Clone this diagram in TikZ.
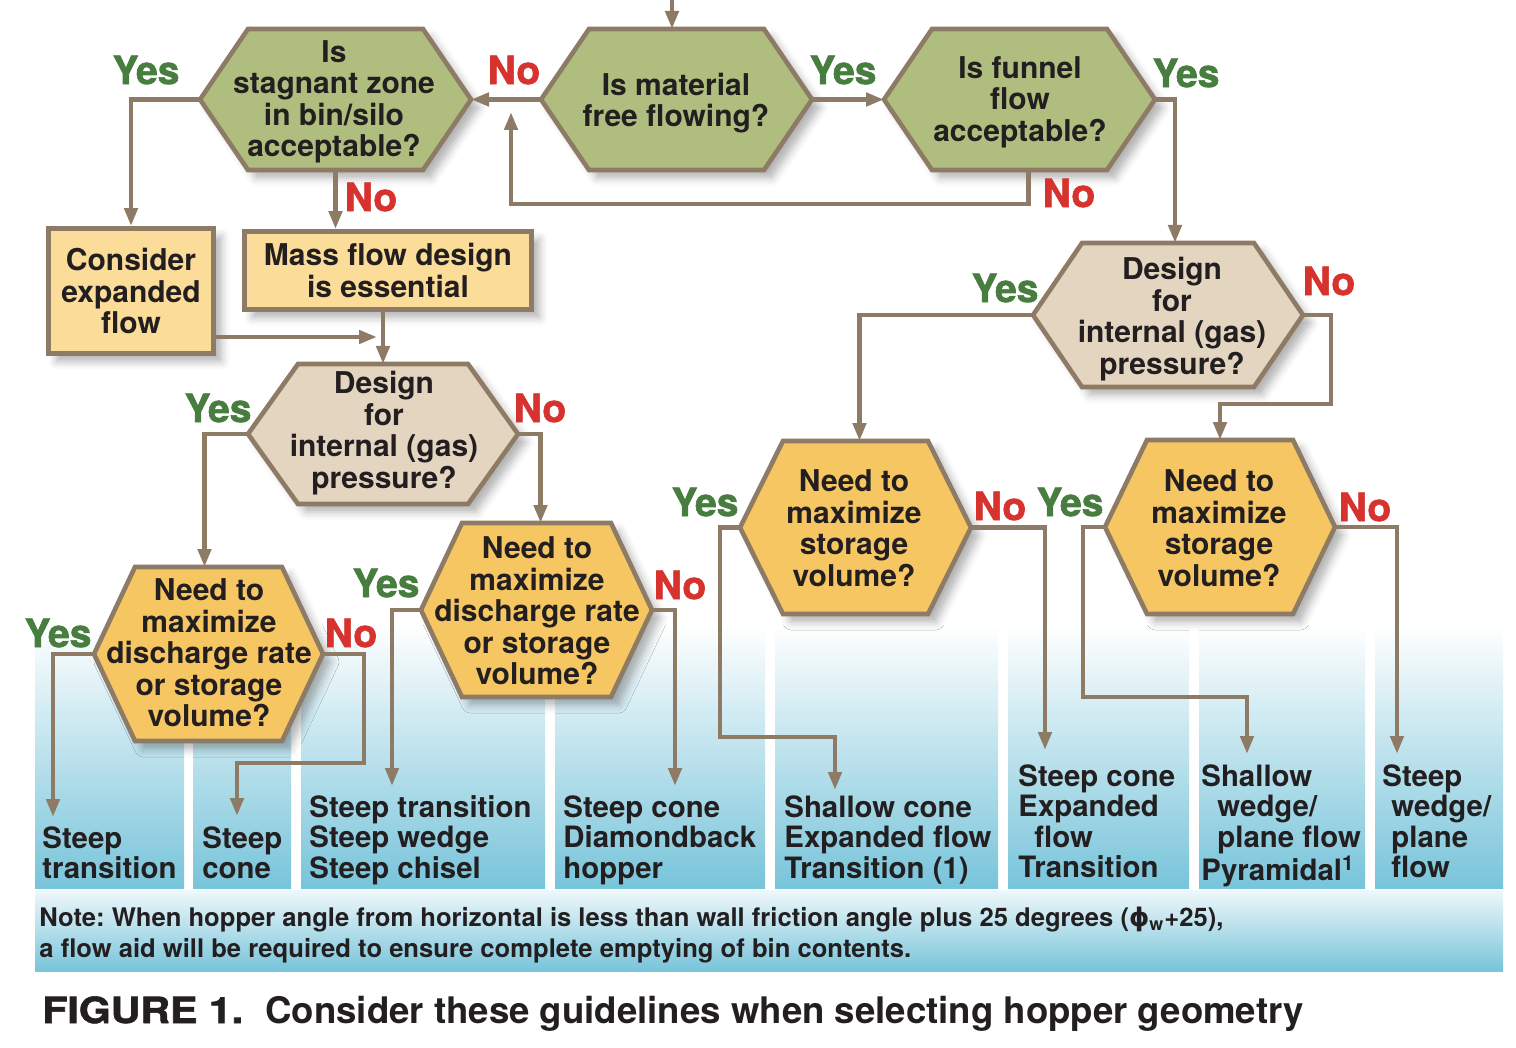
\documentclass[tikz,border=0pt]{standalone}
\usepackage{fontspec}
\setmainfont{TeX Gyre Heros}
\newfontfamily\symfont{DejaVu Sans}
\newfontfamily\heavyfont{texgyreheros-bold.otf}[FakeBold=1.6]
\usepackage{graphicx}
\usetikzlibrary{arrows.meta, calc, positioning, shadows.blur}
\frenchspacing

\definecolor{hexgreen}{RGB}{175,190,127}
\definecolor{hextan}{RGB}{227,213,191}
\definecolor{hexorange}{RGB}{246,198,98}
\definecolor{boxyellow}{RGB}{251,220,152}
\definecolor{linebrown}{RGB}{141,123,102}
\definecolor{yesgreen}{RGB}{72,125,64}
\definecolor{nored}{RGB}{214,50,46}
\definecolor{colblue}{RGB}{120,196,218}
\definecolor{txt}{RGB}{35,31,32}

\begin{document}
\begin{tikzpicture}[x=0.5pt, y=-0.5pt,
    hexline/.style={draw=linebrown, line width=2.3pt,
      blur shadow={shadow xshift=4pt, shadow yshift=-4pt, shadow blur radius=4pt, shadow opacity=30}},
    boxline/.style={draw=linebrown, line width=2.4pt, fill=boxyellow, align=center, text=txt,
      font=\fontsize{15}{15.75}\selectfont\bfseries, inner ysep=2pt,
      blur shadow={shadow xshift=4pt, shadow yshift=-4pt, shadow blur radius=4pt, shadow opacity=30}},
    qtext/.style={align=center, text=txt, inner sep=0pt, font=\fontsize{15}{15.75}\selectfont\bfseries},
    arr/.style={draw=linebrown, line width=2.3pt, -{Triangle[width=6.5pt,length=9pt]}},
    yes/.style={text=yesgreen, font=\fontsize{19.5}{19.5}\selectfont\heavyfont},
    no/.style={text=nored, font=\fontsize{19.5}{19.5}\selectfont\heavyfont},
    coltext/.style={anchor=north west, align=left, inner sep=0pt, text=txt,
      font=\fontsize{14.7}{15.25}\selectfont\bfseries},
  ]
  \useasboundingbox (0,0) rectangle (1516,1048);

  % outcome columns and note band
  \foreach \a/\b in {35/184, 193/291, 301/545, 555/765, 775/998, 1008/1189, 1199/1365, 1375/1503}
    \shade[top color=white, bottom color=colblue] (\a,625) rectangle (\b,888);
  \shade[top color=colblue!12, bottom color=colblue] (35,890) rectangle (1503,971);

  % decision hexagons
  \foreach \n/\cx/\cy/\hw/\hh/\sl/\col in {
      stag/335.5/99.5/135.5/70.5/48/hexgreen,
      free/676.5/99.5/135.5/70.5/48/hexgreen,
      funnel/1019.5/99.5/135.5/70.5/48/hexgreen,
      design1/383/434/135/70/50/hextan,
      design2/1168/315/135/72/49/hextan,
      max1/208.5/654/114.5/87/41/hexorange,
      max2/536.5/610/115.5/87/41/hexorange,
      stor1/855.5/527.5/115.5/86.5/43/hexorange,
      stor2/1220/527/115/87/42/hexorange}
  {
    \draw[hexline, fill=\col] (\cx-\hw,\cy) -- (\cx-\hw+\sl,\cy-\hh) -- (\cx+\hw-\sl,\cy-\hh)
      -- (\cx+\hw,\cy) -- (\cx+\hw-\sl,\cy+\hh) -- (\cx-\hw+\sl,\cy+\hh) -- cycle;
    \coordinate (\n-w) at (\cx-\hw,\cy);
    \coordinate (\n-e) at (\cx+\hw,\cy);
    \coordinate (\n-n) at (\cx,\cy-\hh);
    \coordinate (\n-s) at (\cx,\cy+\hh);
  }

  \node[qtext] (stag) at (334,102) {Is\\stagnant zone\\in bin/silo\\acceptable?};
  \node[qtext] (free) at (676,103) {Is material\\free flowing?};
  \node[qtext] (funnel) at (1020,102) {Is funnel\\flow\\acceptable?};
  \node[qtext] (design1) at (384,433) {Design\\for\\internal (gas)\\pressure?};
  \node[qtext] (design2) at (1172,319) {Design\\for\\internal (gas)\\pressure?};
  \node[qtext] (max1) at (209,653) {Need to\\maximize\\discharge rate\\or storage\\volume?};
  \node[qtext] (max2) at (537,611) {Need to\\maximize\\discharge rate\\or storage\\volume?};
  \node[qtext] (stor1) at (854,528) {Need to\\maximize\\storage\\volume?};
  \node[qtext] (stor2) at (1219,528) {Need to\\maximize\\storage\\volume?};

  \node[boxline, minimum width=82.5pt, minimum height=62.5pt] (consider) at (131,291) {Consider\\expanded\\flow};
  \node[boxline, minimum width=143.5pt, minimum height=39pt] (mass) at (388,270.5) {Mass flow design\\is essential};

  % free ends of the connectors
  \coordinate (entry) at (672,0);
  \coordinate (loopend) at (511,112);
  \coordinate (merge) at (383,337);
  \coordinate (tip1) at (53,817);
  \coordinate (tip2) at (237,816);
  \coordinate (tip3) at (392,786);
  \coordinate (tip4) at (675,786);
  \coordinate (tip5) at (835,790);
  \coordinate (tip6) at (1045,750);
  \coordinate (tip7) at (1247,754);
  \coordinate (tip8) at (1397,754);

  \draw[arr] (entry) -- (entry |- free-n);
  \draw[arr] (free-w) -- (stag-e);
  \draw[arr] (free-e) -- (funnel-w);
  \draw[arr] ([xshift=4.5pt]funnel-s) -- ++(0,34) -| (loopend);
  \draw[arr] (stag-w) -| (consider);
  \draw[arr] (stag-s) -- (stag-s |- mass.north);
  \draw[arr] (mass.south -| design1-n) -- (design1-n);
  \draw[arr, shorten >=3pt] (consider.east |- merge) -- (merge);
  \draw[arr] (funnel-e) -| ([xshift=3.5pt]design2-n);
  \draw[arr] (design1-w) -| ([xshift=-2pt]max1-n);
  \draw[arr] (design1-e) -| ([xshift=2pt]max2-n);
  \draw[arr] (design2-w) -| ([xshift=2pt]stor1-n);
  \draw[arr] (design2-e) -| (1331,404) -| (stor2-n);
  \draw[arr] (max1-w) -| (tip1);
  \draw[arr] (max1-e) -| (364,763) -| (tip2);
  \draw[arr] (max2-w) -| (tip3);
  \draw[arr] (max2-e) -| (tip4);
  \draw[arr] (stor1-w) -| (720,737) -| (tip5);
  \draw[arr] (stor1-e) -| (tip6);
  \draw[arr] (stor2-w) -| (1083,697) -| (tip7);
  \draw[arr] (stor2-e) -| (tip8);

  % yes / no labels
  \node[yes] (yes-stag) at (146,70) {Yes};
  \node[no] (no-free) at (514,70) {No};
  \node[yes] (yes-free) at (843,70) {Yes};
  \node[yes] (yes-funnel) at (1186,73) {Yes};
  \node[no] (no-stag) at (371,197) {No};
  \node[no] (no-funnel) at (1069,193) {No};
  \node[yes] (yes-design2) at (1005,288) {Yes};
  \node[no] (no-design2) at (1329,281) {No};
  \node[yes] (yes-design1) at (218,408) {Yes};
  \node[no] (no-design1) at (540,408) {No};
  \node[yes] (yes-stor1) at (705,502) {Yes};
  \node[no] (no-stor1) at (1000,506) {No};
  \node[yes] (yes-stor2) at (1070,502) {Yes};
  \node[no] (no-stor2) at (1365,507) {No};
  \node[yes] (yes-max2) at (386,583) {Yes};
  \node[no] (no-max2) at (680,585) {No};
  \node[yes] (yes-max1) at (58,633) {Yes};
  \node[no] (no-max1) at (351,633) {No};

  % outcomes
  \node[coltext] (out1) at (42,826) {Steep\\transition};
  \node[coltext] (out2) at (202,826) {Steep\\cone};
  \node[coltext] (out3) at (309,795) {Steep transition\\Steep wedge\\Steep chisel};
  \node[coltext] (out4) at (563,795) {Steep cone\\Diamondback\\hopper};
  \node[coltext] (out5) at (784,795) {Shallow cone\\Expanded flow\\Transition (1)};
  \node[coltext] (out6) at (1018,764) {Steep cone\\Expanded\\\hspace*{8pt}flow\\Transition};
  \node[coltext] (out7) at (1201,764) {Shallow\\\hspace*{8pt}wedge/\\\hspace*{8pt}plane flow\\Pyramidal\textsuperscript{1}};
  \node[coltext] (out8) at (1382,764) {Steep\\\hspace*{4.5pt}wedge/\\\hspace*{4.5pt}plane\\\hspace*{4.5pt}flow};

  \node[coltext, font=\fontsize{12.8}{15.5}\selectfont\bfseries] (note) at (39,907)
    {Note: When hopper angle from horizontal is less than wall friction angle plus 25 degrees ({\symfont ϕ}\textsubscript{w}+25),\\a flow aid will be required to ensure complete emptying of bin contents.};

  \node[anchor=base west, inner sep=0pt, text=txt, font=\fontsize{18}{18}\selectfont\heavyfont] (fig) at (42,1023) {\scalebox{1.14}[1]{FIGURE 1.}};
  \node[anchor=base west, inner sep=0pt, text=txt, font=\fontsize{18.3}{18.3}\selectfont\bfseries] (caption) at (265,1023) {Consider these guidelines when selecting hopper geometry};
\end{tikzpicture}
\end{document}
